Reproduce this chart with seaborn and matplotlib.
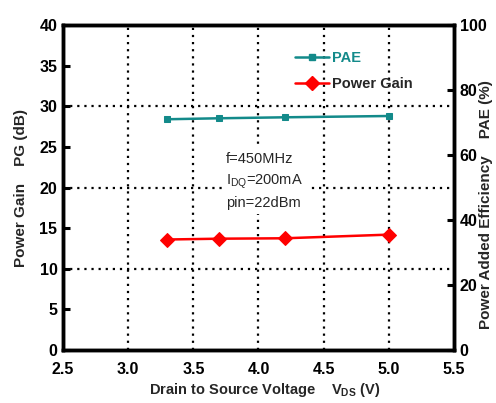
import matplotlib
matplotlib.use("Agg")
import matplotlib.pyplot as plt
import seaborn as sns
import pandas as pd
from matplotlib.lines import Line2D

# Measured data
vds = [3.3, 3.7, 4.2, 5.0]
power_gain_db = [13.6, 13.7, 13.75, 14.2]
pae_pct = [71.0, 71.3, 71.6, 72.0]

x_ticks = [2.5, 3.0, 3.5, 4.0, 4.5, 5.0, 5.5]
x_tick_labels = ["2.5", "3.0", "3.5", "4.0", "4.5", "5.0", "5.5"]
pg_ticks = [0, 5, 10, 15, 20, 25, 30, 35, 40]
pae_ticks = [0, 20, 40, 60, 80, 100]

sns.set_theme(style="white")
plt.rcParams["font.family"] = ["Liberation Sans Narrow", "Liberation Sans", "DejaVu Sans"]
plt.rcParams["font.weight"] = "bold"

df = pd.DataFrame({"vds": vds, "pg": power_gain_db, "pae": pae_pct})

W, H = 496, 403
fig = plt.figure(figsize=(W / 100, H / 100), dpi=100)
ax = fig.add_axes([63 / W, 1 - 350 / H, 391 / W, 325 / H])
ax2 = ax.twinx()

teal = "#138a8a"
red = "#ff0000"

sns.lineplot(data=df, x="vds", y="pg", ax=ax, color=red, marker="D",
             markersize=7, markeredgecolor=red, linewidth=1.8, zorder=5)
sns.lineplot(data=df, x="vds", y="pae", ax=ax2, color=teal, marker="s",
             markersize=4.5, markeredgecolor=teal, linewidth=1.8, zorder=5)

ax.set_xlim(2.5, 5.5)
ax.set_ylim(0, 40)
ax2.set_ylim(0, 100)
ax.set_xticks(x_ticks)
ax.set_xticklabels(x_tick_labels)
ax.set_yticks(pg_ticks)
ax2.set_yticks(pae_ticks)
ax.set_xlabel("")
ax.set_ylabel("")
ax2.set_ylabel("")

# dotted grid on interior positions
for gx in x_ticks[1:-1]:
    ax.axvline(gx, color="black", linestyle=(0, (1, 2.2)), linewidth=1.6, zorder=1)
for gy in [10, 20, 30]:
    ax.axhline(gy, color="black", linestyle=(0, (1, 2.2)), linewidth=1.6, zorder=1)

for a in (ax, ax2):
    for s in a.spines.values():
        s.set_linewidth(2.5)
        s.set_color("black")
    a.tick_params(labelsize=11.5, width=2.2, length=5, colors="black", direction="in", pad=4)
ax.tick_params(axis="x", pad=9)
ax2.tick_params(axis="y", pad=4)
for lbl in ax.get_xticklabels() + ax.get_yticklabels() + ax2.get_yticklabels():
    lbl.set_fontweight("bold")

# axis titles
fig.text(265 / W, 1 - 390 / H, "Drain to Source Voltage    V$_{\\mathregular{DS}}$ (V)",
         fontsize=10.5, fontweight="bold", ha="center", va="center")
side_font = ["Liberation Sans", "DejaVu Sans"]
fig.text(21 / W, 1 - 188 / H, "Power Gain    PG (dB)", rotation=90, family=side_font,
         fontsize=11, fontweight="bold", ha="center", va="center")
fig.text(486 / W, 1 - 205 / H, "Power Added Efficiency    PAE (%)", rotation=90,
         family=side_font, fontsize=11, fontweight="bold", ha="center", va="center")

ax.text(3.75, 20.8, "f=450MHz\nI$_{\\mathregular{DQ}}$=200mA\npin=22dBm",
        fontsize=10.5, fontweight="normal", family=side_font,
        ha="left", va="center", linespacing=1.5,
        bbox=dict(facecolor="white", edgecolor="none", pad=3), zorder=4)

handles = [
    Line2D([], [], color=teal, marker="s", markersize=4.5, linewidth=1.8),
    Line2D([], [], color=red, marker="D", markersize=7, linewidth=1.8),
]
leg = ax2.legend(handles, ["PAE", "Power Gain"], loc="upper left",
                 bbox_to_anchor=(0.56, 0.96), frameon=False, fontsize=10.5,
                 handlelength=2.3, handletextpad=0.2, labelspacing=0.8)
leg.get_texts()[0].set_color(teal)
for t in leg.get_texts():
    t.set_fontweight("bold")

fig.savefig("out.png", dpi=100)
